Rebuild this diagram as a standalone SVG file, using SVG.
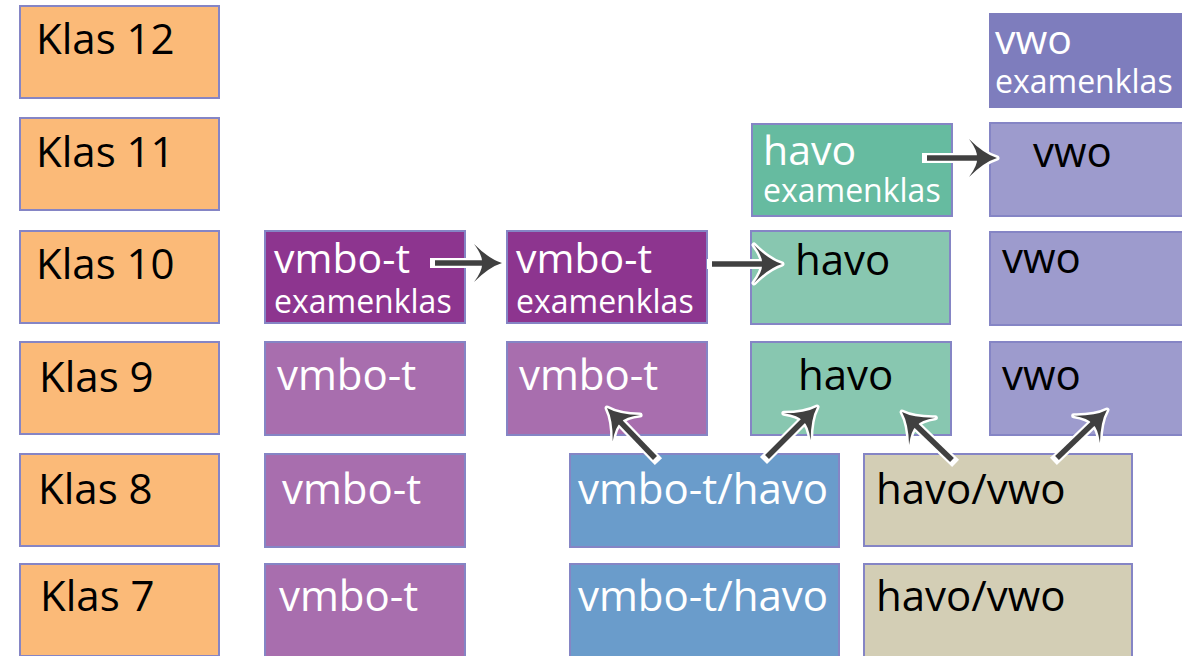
<svg xmlns="http://www.w3.org/2000/svg" width="1182" height="656" viewBox="0 0 1182 656">
<style>
rect{stroke:#8585C5;stroke-width:2}
.or{fill:#FBBA78}.lp{fill:#A86EAE}.dp{fill:#8D358F}.he{fill:#66BBA0}.hv{fill:#88C7B0}.vw{fill:#9D9BCD}.ve{fill:#7E7DBD;stroke:none}.bl{fill:#6A9CCB}.bg{fill:#D3CEB5}
text{font-family:"Open Sans","Noto Sans","DejaVu Sans",sans-serif;font-size:42px}
.w{fill:#fff}.k{fill:#000}.s{font-size:32px}.t{font-size:41px}
.sw{stroke:#fff;stroke-width:10;stroke-linecap:square;fill:none}
.sd{stroke:#404040;stroke-width:5.5;fill:none}
</style>
<defs>
<marker id="hw" markerUnits="userSpaceOnUse" viewBox="-34 -24 40 48" markerWidth="40" markerHeight="48" refX="-17" refY="0" orient="auto" overflow="visible">
<path d="M0,0 Q-13,-4 -28,-19 Q-19,-7 -20,0 Q-19,7 -28,19 Q-13,4 0,0 Z" fill="#fff" stroke="#fff" stroke-width="5" stroke-linejoin="round"/>
</marker>
<marker id="hd" markerUnits="userSpaceOnUse" viewBox="-34 -24 40 48" markerWidth="40" markerHeight="48" refX="-17" refY="0" orient="auto" overflow="visible">
<path d="M0,0 Q-13,-4 -28,-19 Q-19,-7 -20,0 Q-19,7 -28,19 Q-13,4 0,0 Z" fill="#404040"/>
</marker>
</defs>
<g id="klas12"><rect class="or" x="20" y="6" width="199" height="92"/><text class="k" x="36" y="54">Klas 12</text></g>
<g id="klas11"><rect class="or" x="20" y="118" width="199" height="92"/><text class="k" x="36" y="167">Klas 11</text></g>
<g id="klas10"><rect class="or" x="20" y="231" width="199" height="92"/><text class="k" x="36" y="279">Klas 10</text></g>
<g id="klas9"><rect class="or" x="20" y="342" width="199" height="92"/><text class="k" x="39" y="392">Klas 9</text></g>
<g id="klas8"><rect class="or" x="20" y="454" width="199" height="92"/><text class="k" x="38" y="504">Klas 8</text></g>
<g id="klas7"><rect class="or" x="20" y="564" width="199" height="92"/><text class="k" x="40" y="611">Klas 7</text></g>

<g id="vmbo10a"><rect class="dp" x="265" y="231" width="200" height="92"/><text class="w t" x="274" y="273">vmbo-t</text><text class="w s" x="274" y="313">examenklas</text></g>
<g id="vmbo9a"><rect class="lp" x="265" y="342" width="200" height="93"/><text class="w" x="277" y="390">vmbo-t</text></g>
<g id="vmbo8a"><rect class="lp" x="265" y="454" width="200" height="93"/><text class="w" x="282" y="504">vmbo-t</text></g>
<g id="vmbo7a"><rect class="lp" x="265" y="564" width="200" height="93"/><text class="w" x="279" y="611">vmbo-t</text></g>

<g id="vmbo10b"><rect class="dp" x="507" y="231" width="200" height="92"/><text class="w t" x="516" y="273">vmbo-t</text><text class="w s" x="516" y="313">examenklas</text></g>
<g id="vmbo9b"><rect class="lp" x="507" y="342" width="200" height="93"/><text class="w" x="519" y="390">vmbo-t</text></g>

<g id="havo11"><rect class="he" x="752" y="124" width="200" height="92"/><text class="w t" x="763" y="165">havo</text><text class="w s" x="763" y="202">examenklas</text></g>
<g id="havo10"><rect class="hv" x="751" y="231" width="199" height="93"/><text class="k" x="795" y="275">havo</text></g>
<g id="havo9"><rect class="hv" x="751" y="342" width="200" height="93"/><text class="k" x="798" y="390">havo</text></g>

<g id="vwo12"><rect class="ve" x="989" y="13" width="200" height="95"/><text class="w t" x="995" y="54">vwo</text><text class="w s" x="995" y="93">examenklas</text></g>
<g id="vwo11"><rect class="vw" x="990" y="123" width="200" height="93"/><text class="k" x="1033" y="167">vwo</text></g>
<g id="vwo10"><rect class="vw" x="990" y="232" width="200" height="93"/><text class="k" x="1002" y="273">vwo</text></g>
<g id="vwo9"><rect class="vw" x="990" y="342" width="200" height="93"/><text class="k" x="1002" y="390">vwo</text></g>

<g id="vh8"><rect class="bl" x="570" y="454" width="269" height="93"/><text class="w" x="578" y="504">vmbo-t/havo</text></g>
<g id="vh7"><rect class="bl" x="570" y="564" width="269" height="93"/><text class="w" x="578" y="611">vmbo-t/havo</text></g>
<g id="hw8"><rect class="bg" x="864" y="454" width="268" height="92"/><text class="k" x="876" y="504">havo/vwo</text></g>
<g id="hw7"><rect class="bg" x="864" y="564" width="268" height="93"/><text class="k" x="876" y="611">havo/vwo</text></g>

<g id="connectors">
<g class="sw" marker-end="url(#hw)">
<line x1="435" y1="263" x2="485" y2="263"/>
<line x1="712" y1="264" x2="765" y2="264"/>
<line x1="927" y1="158" x2="980" y2="158"/>
<line x1="655" y1="458" x2="618.8" y2="420.3"/>
<line x1="767" y1="457" x2="805" y2="419"/>
<line x1="952" y1="460" x2="914.3" y2="423.8"/>
<line x1="1057" y1="458" x2="1094.7" y2="421.8"/>
</g>
<g class="sd" marker-end="url(#hd)">
<line x1="435" y1="263" x2="485" y2="263"/>
<line x1="712" y1="264" x2="765" y2="264"/>
<line x1="927" y1="158" x2="980" y2="158"/>
<line x1="655" y1="458" x2="618.8" y2="420.3"/>
<line x1="767" y1="457" x2="805" y2="419"/>
<line x1="952" y1="460" x2="914.3" y2="423.8"/>
<line x1="1057" y1="458" x2="1094.7" y2="421.8"/>
</g>
</g>
</svg>
